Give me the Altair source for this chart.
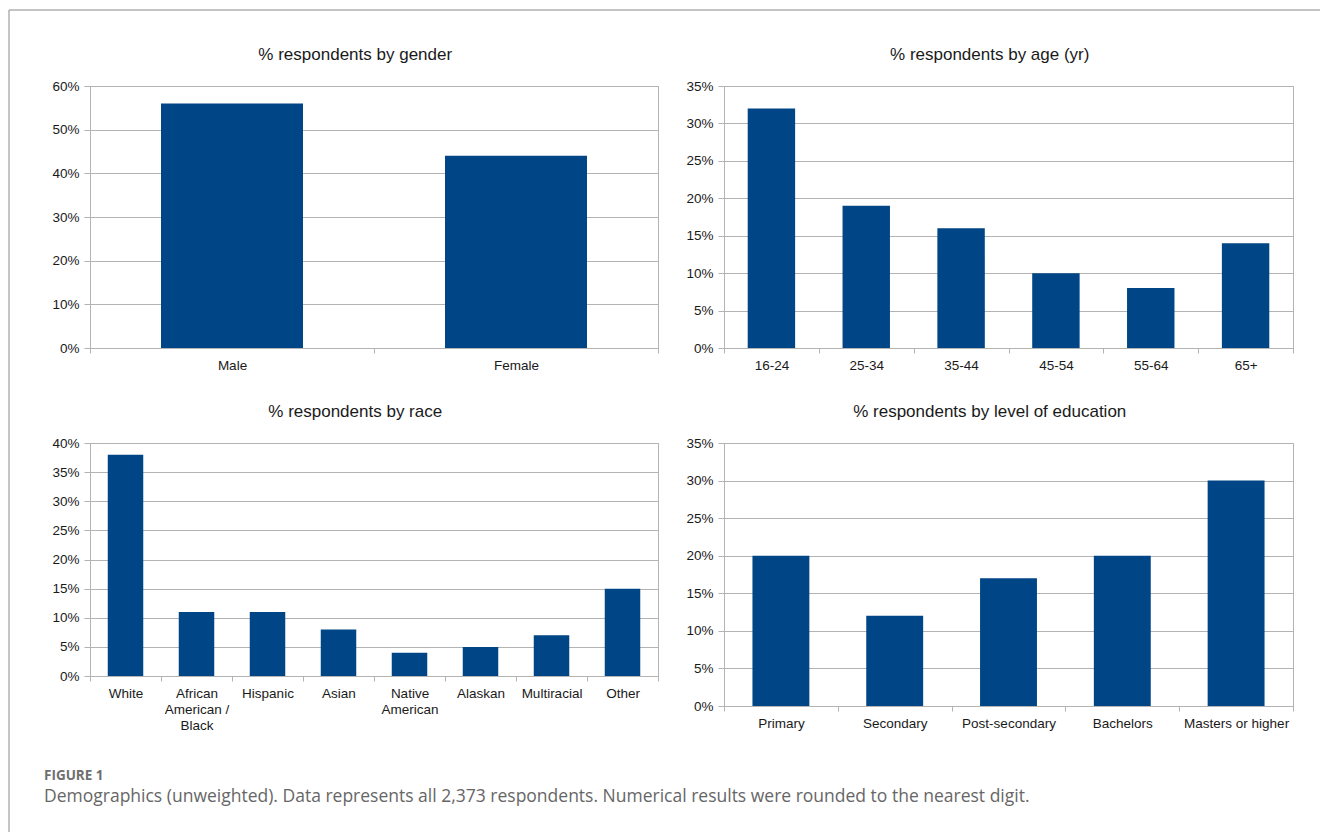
import altair as alt
import pandas as pd

# ---- data -------------------------------------------------------------
gender_labels = ["Male", "Female"]
gender_values = [56, 44]
gender_ticks = [0, 10, 20, 30, 40, 50, 60]

age_labels = ["16-24", "25-34", "35-44", "45-54", "55-64", "65+"]
age_values = [32, 19, 16, 10, 8, 14]
age_ticks = [0, 5, 10, 15, 20, 25, 30, 35]

race_labels = ["White", "African\nAmerican /\nBlack", "Hispanic", "Asian",
               "Native\nAmerican", "Alaskan", "Multiracial", "Other"]
race_values = [38, 11, 11, 8, 4, 5, 7, 15]
race_ticks = [0, 5, 10, 15, 20, 25, 30, 35, 40]

edu_labels = ["Primary", "Secondary", "Post-secondary", "Bachelors", "Masters or higher"]
edu_values = [20, 12, 17, 20, 30]
edu_ticks = [0, 5, 10, 15, 20, 25, 30, 35]

figure_label = "FIGURE 1"
figure_caption = ("Demographics (unweighted). Data represents all 2,373 respondents. "
                  "Numerical results were rounded to the nearest digit.")

# ---- style ------------------------------------------------------------
BAR = "#004586"
GRID = "#b3b3b3"
INK = "#1a1a1a"
FONT = "Liberation Sans"
CAPTION_FONT = "Open Sans"


def panel(title, labels, values, ticks, width, height, title_offset):
    df = pd.DataFrame({"category": labels, "share": values})
    return (
        alt.Chart(
            df,
            title=alt.TitleParams(
                title, font=FONT, fontSize=17, fontWeight="normal", color=INK,
                baseline="alphabetic", offset=title_offset, anchor="middle",
                frame="bounds",
            ),
        )
        .mark_bar(color=BAR, width=alt.RelativeBandSize(0.5))
        .encode(
            x=alt.X(
                "category:N", sort=labels, title=None,
                scale=alt.Scale(paddingInner=0, paddingOuter=0),
                axis=alt.Axis(
                    labelAngle=0, tickBand="extent", grid=False, tickSize=5,
                    labelPadding=5, labelLineHeight=16,
                    labelExpr="split(datum.label, '\\n')",
                ),
            ),
            y=alt.Y(
                "share:Q", title=None,
                scale=alt.Scale(domain=[ticks[0], ticks[-1]], nice=False),
                axis=alt.Axis(values=ticks, labelExpr="datum.value + '%'",
                              tickSize=6, labelPadding=5, grid=True),
            ),
        )
        .properties(width=width, height=height)
    )


p_gender = panel("% respondents by gender", gender_labels, gender_values, gender_ticks, 568, 262, 2)
p_age = panel("% respondents by age (yr)", age_labels, age_values, age_ticks, 569, 262, 2)
p_race = panel("% respondents by race", race_labels, race_values, race_ticks, 568, 233, 2)
p_edu = panel("% respondents by level of education", edu_labels, edu_values, edu_ticks, 569, 263, 2)

# ---- caption block with the figure frame --------------------------------
cap_df = pd.DataFrame({"label": [figure_label], "caption": [figure_caption]})
cap_base = alt.Chart(cap_df)

frame_top = cap_base.mark_rule(color="#8a8a8a", strokeWidth=1).encode(
    x=alt.value(-81), x2=alt.value(1230), y=alt.value(-791)
)
frame_left = cap_base.mark_rule(color="#8a8a8a", strokeWidth=1).encode(
    x=alt.value(-81), y=alt.value(-791), y2=alt.value(31)
)
label_text = cap_base.mark_text(
    font=CAPTION_FONT, fontSize=13.5, fontWeight="bold", color="#6f6f6f",
    align="left", baseline="alphabetic",
).encode(x=alt.value(-46), y=alt.value(-21), text="label:N")
caption_text = cap_base.mark_text(
    font=CAPTION_FONT, fontSize=17.5, color="#666666",
    align="left", baseline="alphabetic",
).encode(x=alt.value(-46), y=alt.value(0.5), text="caption:N")

caption_block = alt.layer(frame_top, frame_left, label_text, caption_text).properties(
    width=568, height=10, view=alt.ViewBackground(stroke="transparent")
)

chart = (
    alt.concat(
        p_gender, p_age, p_race, p_edu, caption_block,
        columns=2, spacing={"row": 95, "column": 66},
        bounds="flush", align="each",
    )
    .properties(padding={"left": 8, "top": 9, "right": 0, "bottom": 0}, background="white")
    .configure_view(stroke=GRID, strokeWidth=1)
    .configure_axis(
        domainColor=GRID, tickColor=GRID, gridColor=GRID,
        labelFont=FONT, labelFontSize=13.5, labelColor=INK,
    )
)

chart.save("out.html", embed_options={"renderer": "svg", "actions": False})
